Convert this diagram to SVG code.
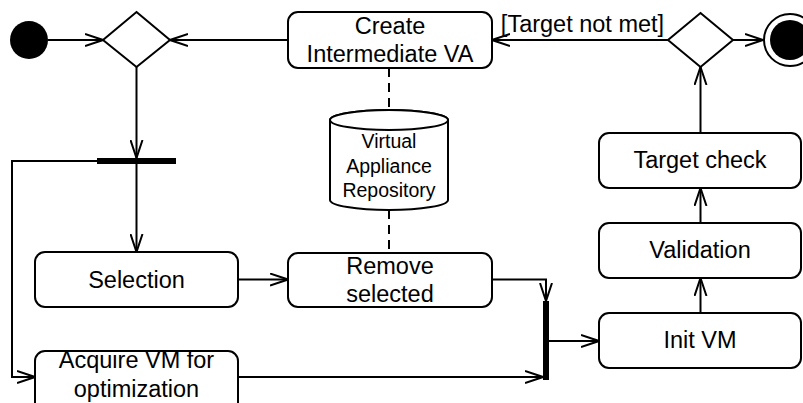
<svg xmlns="http://www.w3.org/2000/svg" width="803" height="403" viewBox="0 0 803 403">
<defs>
<marker id="arr" markerWidth="20" markerHeight="14" refX="18" refY="7" orient="auto" markerUnits="userSpaceOnUse">
<path d="M0,1 L18,7 L0,13" fill="none" stroke="#000" stroke-width="2"/>
</marker>
<style>
.box{fill:#fff;stroke:#000;stroke-width:2}
.ln{fill:none;stroke:#000;stroke-width:2}
.dash{fill:none;stroke:#000;stroke-width:2;stroke-dasharray:9 6}
.t{font-family:"Liberation Sans",Arial,Helvetica,sans-serif;font-size:23.5px;text-anchor:middle;fill:#000}
.ts{font-family:"Liberation Sans",Arial,Helvetica,sans-serif;font-size:19.5px;text-anchor:middle;fill:#000}
.bar{fill:#000}
</style>
</defs>
<rect width="803" height="403" fill="#fff"/>
<g id="connectors">
<line class="ln" x1="48" y1="40" x2="103" y2="40" marker-end="url(#arr)"/>
<line class="ln" x1="288" y1="40" x2="170" y2="40" marker-end="url(#arr)"/>
<line class="ln" x1="668" y1="40" x2="492" y2="40" marker-end="url(#arr)"/>
<line class="ln" x1="733" y1="40" x2="763" y2="40" marker-end="url(#arr)"/>
<line class="ln" x1="136.5" y1="67" x2="136.5" y2="158" marker-end="url(#arr)"/>
<line class="ln" x1="136.5" y1="164" x2="136.5" y2="252" marker-end="url(#arr)"/>
<polyline class="ln" points="97,161 12,161 12,377 35,377" marker-end="url(#arr)"/>
<line class="ln" x1="238" y1="279.5" x2="288" y2="279.5" marker-end="url(#arr)"/>
<polyline class="ln" points="492,279.5 546,279.5 546,301" marker-end="url(#arr)"/>
<line class="ln" x1="238" y1="377" x2="543" y2="377" marker-end="url(#arr)"/>
<line class="ln" x1="549" y1="341" x2="599" y2="341" marker-end="url(#arr)"/>
<line class="ln" x1="700.5" y1="313" x2="700.5" y2="278" marker-end="url(#arr)"/>
<line class="ln" x1="700.5" y1="223" x2="700.5" y2="188" marker-end="url(#arr)"/>
<line class="ln" x1="700.5" y1="133" x2="700.5" y2="67" marker-end="url(#arr)"/>
<line class="dash" x1="389" y1="68" x2="389" y2="110"/>
<line class="dash" x1="389" y1="210" x2="389" y2="253"/>
<text class="t" x="582.5" y="32">[Target not met]</text>
</g>
<g id="start"><circle cx="29" cy="40" r="19" fill="#000"/></g>
<g id="decision1"><polygon class="box" points="136.5,12 170,40 136.5,67 103,40"/></g>
<g id="create"><rect class="box" x="288" y="12" width="204" height="56" rx="10"/>
<text class="t" x="390" y="34">Create</text><text class="t" x="390" y="62">Intermediate VA</text></g>
<g id="decision2"><polygon class="box" points="700.5,13 733,40 700.5,67 668,40"/></g>
<g id="end"><circle cx="790" cy="40" r="26" fill="#fff" stroke="#000" stroke-width="2"/><circle cx="790" cy="40" r="20" fill="#000"/></g>
<g id="repository">
<path class="box" d="M330,120 L330,200 A59,10 0 0 0 448,200 L448,120 A59,10 0 0 0 330,120 Z"/>
<ellipse class="box" cx="389" cy="120" rx="59" ry="10"/>
<text class="ts" x="389" y="148">Virtual</text><text class="ts" x="389" y="173">Appliance</text><text class="ts" x="389" y="197">Repository</text>
</g>
<g id="fork"><rect class="bar" x="97" y="158" width="79" height="6"/></g>
<g id="selection"><rect class="box" x="35" y="252" width="203" height="55" rx="10"/>
<text class="t" x="136.5" y="288">Selection</text></g>
<g id="remove"><rect class="box" x="288" y="253" width="204" height="54" rx="10"/>
<text class="t" x="390" y="274">Remove</text><text class="t" x="390" y="302">selected</text></g>
<g id="acquire"><rect class="box" x="35" y="351" width="203" height="64" rx="10"/>
<text class="t" x="136.5" y="368">Acquire VM for</text><text class="t" x="136.5" y="397">optimization</text></g>
<g id="join"><rect class="bar" x="543" y="301" width="6" height="79"/></g>
<g id="initvm"><rect class="box" x="599" y="313" width="202" height="55" rx="10"/>
<text class="t" x="700" y="348">Init VM</text></g>
<g id="validation"><rect class="box" x="599" y="223" width="202" height="55" rx="10"/>
<text class="t" x="700" y="258">Validation</text></g>
<g id="targetcheck"><rect class="box" x="599" y="133" width="202" height="55" rx="10"/>
<text class="t" x="700" y="168">Target check</text></g>
</svg>
